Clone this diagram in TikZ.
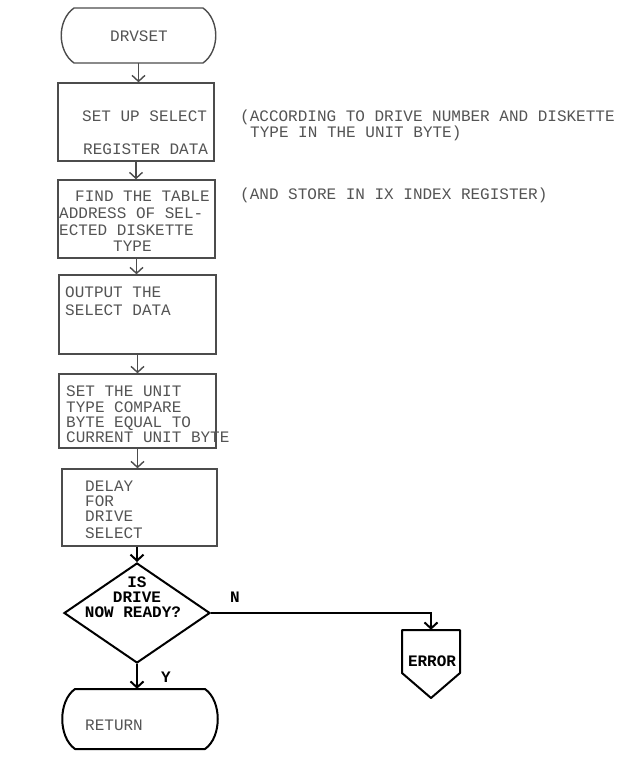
\documentclass[tikz,border=0pt]{standalone}
\usepackage{fontspec}
\newfontfamily\tw{Liberation Mono}
\usetikzlibrary{arrows.meta,shapes.geometric}
\definecolor{ln}{gray}{0.3}
\definecolor{tx}{gray}{0.33}
\newcommand\termpath[4]{(#1+13,#3) -- (#2-13,#3) .. controls (#2+4,#3+12) and (#2+4,#4-12) .. (#2-13,#4) -- (#1+13,#4) .. controls (#1-4,#4-12) and (#1-4,#3+12) .. cycle}
\begin{document}
\begin{tikzpicture}[x=1pt,y=-1pt,
  box/.style={draw=ln, line width=1.4pt, rectangle, inner sep=0pt},
  ghost/.style={rectangle, inner sep=0pt},
  txt/.style={text=tx, font=\tw\fontsize{16}{16}\selectfont, inner sep=0pt, anchor=base west},
  txtc/.style={text=tx, font=\tw\fontsize{16}{16}\selectfont, inner sep=0pt, anchor=base},
  btxt/.style={text=black, font=\tw\bfseries\fontsize{16}{16}\selectfont, inner sep=0pt, anchor=base},
  flow/.style={draw=ln, line width=1.4pt, -{Straight Barb[length=6pt,width=13pt]}},
  bflow/.style={draw=black, line width=2pt, -{Straight Barb[length=6pt,width=13pt]}},
  term/.style={draw=ln, line width=1.4pt},
  bterm/.style={draw=black, line width=2pt, line join=round}
]
\useasboundingbox (0,0) rectangle (619,771);

% nodes (shapes)
\node[ghost, minimum width=155pt, minimum height=55pt] (start) at (138.5,35.5) {};
\draw[term] \termpath{61}{216}{8}{63};
\node[box, minimum width=156pt, minimum height=78pt] (b1) at (136,122) {};
\node[box, minimum width=157pt, minimum height=78pt] (b2) at (136.5,219) {};
\node[box, minimum width=157pt, minimum height=79pt] (b3) at (137.5,314.5) {};
\node[box, minimum width=157pt, minimum height=74pt] (b4) at (137.5,411) {};
\node[box, minimum width=155pt, minimum height=77pt] (b5) at (139.5,507.5) {};
\node[draw=black, line width=2pt, diamond, minimum width=146pt, minimum height=100pt, inner sep=0pt] (dia) at (137,613) {};
\node[ghost, minimum width=156pt, minimum height=60pt] (ret) at (140,719) {};
\draw[bterm] \termpath{62}{218}{689}{749};
\node[ghost, minimum width=58pt, minimum height=68pt] (err) at (431,664) {};
\draw[bterm] (402,630) -- (460,630) -- (460,673) -- (431,698) -- (402,673) -- cycle;

% texts
\node[txtc] (tstart) at (139,41.5) {DRVSET};
\node[txt] (t1a) at (82,121.5) {SET UP SELECT};
\node[txt] (t1b) at (83,154.5) {REGISTER DATA};
\node[txt] (t2a) at (75,201.5) {FIND THE TABLE};
\node[txt] (t2b) at (59,218.5) {ADDRESS OF SEL-};
\node[txt] (t2c) at (59,235.5) {ECTED DISKETTE};
\node[txt] (t2d) at (113,251) {TYPE};
\node[txt] (t3a) at (65,297.5) {OUTPUT THE};
\node[txt] (t3b) at (65,315.5) {SELECT DATA};
\node[txt] (t4a) at (66,396.5) {SET THE UNIT};
\node[txt] (t4b) at (66,412.5) {TYPE COMPARE};
\node[txt] (t4c) at (66,427.5) {BYTE EQUAL TO};
\node[txt] (t4d) at (66,442.5) {CURRENT UNIT BYTE};
\node[txt] (t5a) at (85,491.5) {DELAY};
\node[txt] (t5b) at (85,506.5) {FOR};
\node[txt] (t5c) at (85,521.5) {DRIVE};
\node[txt] (t5d) at (85,538.5) {SELECT};
\node[txt] (c1a) at (240,121.5) {(ACCORDING TO DRIVE NUMBER AND DISKETTE};
\node[txt] (c1b) at (250,137.5) {TYPE IN THE UNIT BYTE)};
\node[txt] (c2) at (240,199.5) {(AND STORE IN IX INDEX REGISTER)};
\node[btxt] (d1) at (137,587.5) {IS};
\node[btxt] (d2) at (137,602.5) {DRIVE};
\node[btxt] (d3) at (133,617.5) {NOW READY?};
\node[btxt] (lN) at (235,602) {N};
\node[btxt] (lY) at (166,682) {Y};
\node[txt] (tret) at (85,730.5) {RETURN};
\node[btxt] (terr) at (432,666.5) {ERROR};

% connectors
\draw[flow] (start.south) -- (start.south |- b1.north);
\draw[flow] (b1.south) -- (b1.south |- b2.north);
\draw[flow] (b2.south) -- (b2.south |- b3.north);
\draw[flow] (b3.south) -- (b3.south |- b4.north);
\draw[flow] (b4.south) -- (b4.south |- b5.north);
\draw[bflow] (dia.north |- b5.south) -- (dia.north);
\draw[bflow] (dia.south) -- (dia.south |- ret.north);
\draw[bflow] (dia.east) -| (err.north);
\end{tikzpicture}
\end{document}
